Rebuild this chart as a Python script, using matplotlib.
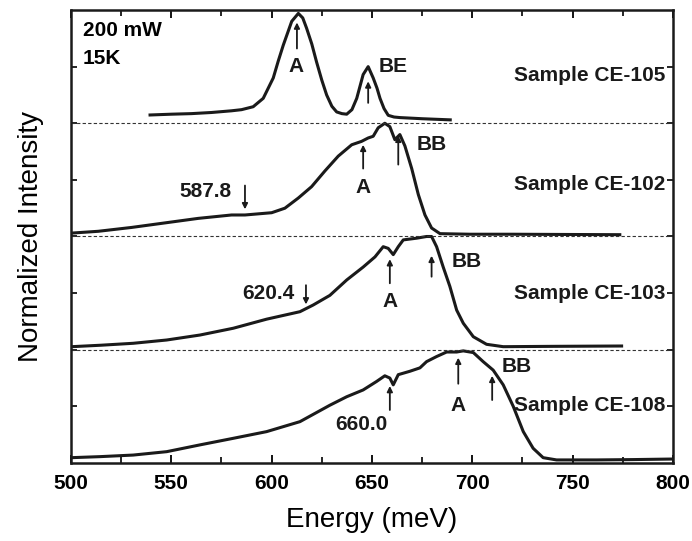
import matplotlib
matplotlib.use('Agg')
import matplotlib.pyplot as plt

plt.rcParams['font.family'] = ['Liberation Sans', 'DejaVu Sans']

# Sample CE-105 (top trace, offset 3)
ce105_x = [539.4, 550, 560, 570, 580, 585, 590.8, 595.8, 600.8, 603.3, 605.8, 608, 610,
           613.3, 615.5, 617.4, 620, 622.4, 625, 627.4, 630, 632.4, 635, 637.4, 640,
           642.4, 645.6, 648.1, 650.6, 652.5, 654, 656, 658.1, 661, 664, 675, 689]
ce105_y = [3.073, 3.08, 3.085, 3.095, 3.11, 3.12, 3.146, 3.22, 3.40, 3.55, 3.69, 3.80, 3.90,
           3.97, 3.93, 3.84, 3.70, 3.54, 3.38, 3.25, 3.15, 3.10, 3.085, 3.08, 3.12,
           3.22, 3.43, 3.50, 3.40, 3.31, 3.22, 3.13, 3.07, 3.055, 3.05, 3.04, 3.03]

# Sample CE-102 (offset 2)
ce102_x = [500.3, 513.6, 530.2, 546.8, 563.4, 580, 586.7, 600, 606.6, 613.3, 619.9,
           626.6, 633.2, 639.9, 644.8, 648.1, 650.6, 653.1, 656.4, 658.9, 661.4,
           663.9, 666.4, 669.8, 673.1, 676.4, 679.7, 683.9, 698.8, 720, 745, 773.5]
ce102_y = [2.03, 2.046, 2.08, 2.12, 2.16, 2.19, 2.19, 2.21, 2.25, 2.34, 2.44,
           2.58, 2.71, 2.81, 2.84, 2.87, 2.885, 2.96, 3.00, 2.97, 2.855,
           2.90, 2.80, 2.60, 2.37, 2.19, 2.075, 2.025, 2.02, 2.02, 2.018, 2.016]

# Sample CE-103 (offset 1)
ce103_x = [500.3, 515, 531, 547.7, 564.3, 580.9, 597.5, 614.1, 620.7, 629, 637.4,
           645.6, 651.5, 655.6, 658.1, 660.6, 663.1, 665.6, 672.2, 677.2, 679.7,
           682.2, 685.5, 688.8, 692.2, 695.5, 700.5, 707.1, 715.4, 740, 774.4]
ce103_y = [1.027, 1.04, 1.057, 1.086, 1.13, 1.19, 1.27, 1.336, 1.395, 1.48, 1.616,
           1.73, 1.82, 1.91, 1.895, 1.84, 1.91, 1.97, 1.985, 2.00, 2.00,
           1.91, 1.73, 1.56, 1.35, 1.234, 1.115, 1.048, 1.027, 1.03, 1.033]

# Sample CE-108 (offset 0)
ce108_x = [500.3, 514.4, 531, 547.7, 564.3, 580.9, 597.5, 614.1, 629, 637.4, 645.6,
           652.3, 656.4, 658.9, 660.6, 663.1, 668.9, 673.9, 677.2, 682.2, 687.2,
           692.2, 695.5, 700.5, 705.4, 710.4, 715.4, 720.4, 725.4, 730.3, 735.3,
           742, 761.9, 780, 800]
ce108_y = [0.047, 0.056, 0.07, 0.10, 0.16, 0.218, 0.277, 0.365, 0.51, 0.585, 0.645,
           0.72, 0.77, 0.75, 0.69, 0.78, 0.81, 0.84, 0.895, 0.94, 0.98,
           0.98, 0.99, 0.975, 0.895, 0.82, 0.69, 0.50, 0.277, 0.13, 0.047,
           0.027, 0.027, 0.03, 0.035]

sample_names = ['Sample CE-105', 'Sample CE-102', 'Sample CE-103', 'Sample CE-108']
sample_label_y = [3.42, 2.455, 1.50, 0.51]
offsets = [3, 2, 1]

# arrows: (x, y_tail, y_head)
arrows = [(612.6, 3.66, 3.89), (648.1, 3.18, 3.37),
          (586.7, 2.45, 2.24), (645.6, 2.60, 2.81), (663.1, 2.635, 2.89),
          (617.1, 1.57, 1.40), (658.9, 1.587, 1.80), (679.7, 1.645, 1.83),
          (658.9, 0.468, 0.68), (693.0, 0.70, 0.93), (709.9, 0.556, 0.77)]
# labels: (text, x, y, ha)
labels = [('A', 612.4, 3.50, 'center'), ('BE', 660.5, 3.50, 'center'),
          ('587.8', 580.0, 2.40, 'right'), ('A', 645.6, 2.43, 'center'),
          ('BB', 679.7, 2.81, 'center'),
          ('620.4', 611.5, 1.50, 'right'), ('A', 658.9, 1.425, 'center'),
          ('BB', 697.1, 1.78, 'center'),
          ('660.0', 644.8, 0.336, 'center'), ('A', 693.0, 0.51, 'center'),
          ('BB', 722.0, 0.85, 'center')]

fig = plt.figure(figsize=(6.92, 5.41), dpi=100)
ax = fig.add_axes([0.1026, 0.1442, 0.8699, 0.8373])

for xs, ys in [(ce105_x, ce105_y), (ce102_x, ce102_y), (ce103_x, ce103_y), (ce108_x, ce108_y)]:
    ax.plot(xs, ys, color='#1a1a1a', linewidth=2.2, solid_joinstyle='round')

for off in offsets:
    ax.axhline(off, color='#333333', linestyle=(0, (3, 2)), linewidth=0.8)

for name, yy in zip(sample_names, sample_label_y):
    ax.text(796, yy, name, ha='right', va='center', fontsize=15, fontweight='bold',
            color='#1a1a1a')

for xa, y0, y1 in arrows:
    ax.annotate('', xy=(xa, y1), xytext=(xa, y0),
                arrowprops=dict(arrowstyle='-|>', color='#1a1a1a', lw=1.3,
                                mutation_scale=8, shrinkA=0, shrinkB=0))

for txt, xt, yt, ha in labels:
    ax.text(xt, yt, txt, ha=ha, va='center', fontsize=15, fontweight='bold',
            color='#1a1a1a')

ax.text(506, 3.82, '200 mW', ha='left', va='center', fontsize=15, fontweight='bold')
ax.text(506, 3.57, '15K', ha='left', va='center', fontsize=15, fontweight='bold')

ax.set_xlim(500, 800)
ax.set_ylim(0, 4)
ax.set_xticks([500, 550, 600, 650, 700, 750, 800])
ax.set_xticks([525, 575, 625, 675, 725, 775], minor=True)
ax.set_yticks([0.5, 1, 1.5, 2, 2.5, 3, 3.5])
ax.set_yticklabels([])
ax.tick_params(axis='x', which='major', direction='in', length=6, width=1.3,
               top=True, labelsize=15, pad=8)
ax.tick_params(axis='x', which='minor', direction='in', length=4, width=1.2, top=True)
ax.tick_params(axis='y', which='major', direction='in', length=4, width=1.2, right=True)
for lab in ax.get_xticklabels():
    lab.set_fontweight('bold')
for sp in ax.spines.values():
    sp.set_linewidth(1.8)
    sp.set_color('#1a1a1a')

ax.set_xlabel('Energy (meV)', fontsize=20, labelpad=10)
ax.set_ylabel('Normalized Intensity', fontsize=20, labelpad=16)

fig.savefig('out.png', dpi=100)
